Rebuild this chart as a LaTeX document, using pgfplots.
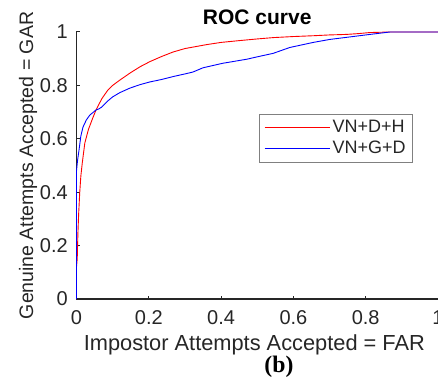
\documentclass[border=0pt]{standalone}
\usepackage{pgfplots}
\pgfplotsset{compat=1.18}
\usepackage{fontspec}
\setmainfont{Liberation Sans}
\newfontfamily\timesfont{Liberation Serif}
\definecolor{axgray}{HTML}{262626}
\begin{document}
\begin{tikzpicture}
\begin{axis}[
  scale only axis,
  width=361.5pt, height=267pt,
  xmin=0, xmax=1, ymin=0, ymax=1,
  enlargelimits=false,
  axis lines=left,
  axis line style={-, axgray, line width=1.5pt},
  tick style={axgray, line width=1pt},
  tick align=inside,
  major tick length=3.5pt,
  xtick={0,0.2,0.4,0.6,0.8,1},
  ytick={0,0.2,0.4,0.6,0.8,1},
  /pgf/number format/assume math mode=true,
  ticklabel style={font=\fontsize{20}{24}\selectfont, text=axgray},
  xticklabel style={anchor=base, yshift=-25pt, inner sep=0pt},
  yticklabel style={anchor=east, inner sep=0pt, xshift=-8.5pt},
  clip=false,
  every axis title shift=0pt,
  title={\bfseries ROC curve},
  title style={at={(axis description cs:0.5,1.0288)}, anchor=base, font=\fontsize{21}{25}\selectfont, inner sep=0pt},
  xlabel={Impostor Attempts Accepted = FAR},
  xlabel style={at={(axis description cs:0.492,-0.191)}, anchor=base, font=\fontsize{21.8}{26}\selectfont, text=axgray, inner sep=0pt},
  ylabel={Genuine Attempts Accepted = GAR},
  ylabel style={at={(axis description cs:-0.1203,0.5)}, anchor=base, font=\fontsize{19.5}{23}\selectfont, text=axgray, inner sep=0pt},
  legend style={at={(axis description cs:0.931,0.693)}, anchor=north east,
    draw=gray, line width=0.8pt, font=\fontsize{18}{21}\selectfont, text=axgray,
    inner xsep=4.5pt, inner ysep=5pt, row sep=4pt,
    nodes={inner xsep=2.5pt, inner ysep=0pt, text height=13pt, text depth=4pt}},
  legend cell align=left,
  legend image code/.code={\draw[#1, line width=0.9pt] (0pt,0pt) -- (65pt,0pt);},
]
\addplot[red, line width=0.9pt] coordinates {
(0,0) (0,0.12) (0.002,0.15) (0.004,0.25) (0.006,0.32) (0.009,0.40) (0.012,0.46)
(0.016,0.51) (0.023,0.584) (0.033,0.635) (0.045,0.678) (0.054,0.708) (0.07,0.75)
(0.087,0.783) (0.10,0.80) (0.12,0.82) (0.15,0.848) (0.176,0.87) (0.203,0.889)
(0.235,0.908) (0.267,0.925) (0.30,0.938) (0.361,0.953) (0.40,0.961) (0.452,0.968)
(0.50,0.974) (0.544,0.979) (0.60,0.983) (0.655,0.986) (0.70,0.989) (0.747,0.991)
(0.78,0.994) (0.812,0.998) (0.867,1.0) (1,1)
};
\addlegendentry{VN+D+H}
\addplot[blue, line width=0.9pt] coordinates {
(0,0) (0,0.48) (0.003,0.52) (0.007,0.558) (0.012,0.61) (0.018,0.644) (0.027,0.67)
(0.037,0.689) (0.047,0.70) (0.054,0.708) (0.062,0.712) (0.07,0.719) (0.085,0.74)
(0.10,0.757) (0.12,0.773) (0.148,0.79) (0.176,0.803) (0.203,0.813) (0.235,0.822)
(0.267,0.833) (0.30,0.843) (0.322,0.85) (0.35,0.866) (0.405,0.883) (0.471,0.898)
(0.50,0.907) (0.544,0.92) (0.59,0.942) (0.655,0.961) (0.70,0.972) (0.747,0.98)
(0.812,0.991) (0.867,1.0) (1,1)
};
\addlegendentry{VN+G+D}
\node[anchor=base, inner sep=0pt, font=\timesfont\bfseries\fontsize{23.7}{28}\selectfont] at (axis description cs:0.56,-0.2734) {(b)};
\end{axis}
\pgfresetboundingbox
\path[use as bounding box] ([shift={(-76.5pt,-84pt)}]current axis.south west) rectangle ([shift={(0pt,32pt)}]current axis.north east);
\end{tikzpicture}
\end{document}
